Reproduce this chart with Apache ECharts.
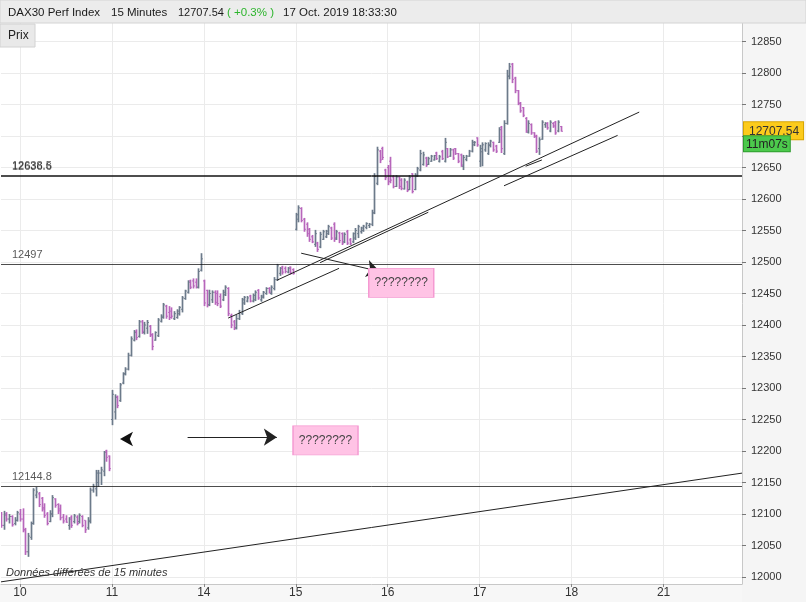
<!DOCTYPE html>
<html>
<head>
<meta charset="utf-8">
<script src="https://cdn.jsdelivr.net/npm/echarts@6/dist/echarts.min.js"></script>
<style>
html,body{margin:0;padding:0;background:#fff;}
#chart{width:806px;height:602px;}
</style>
</head>
<body>
<div id="chart"></div>
<script>
// ---------- DATA ----------
// 15-minute OHLC bars, each [open, high, low, close]
const oct09 = [[12100,12103,12078,12082],[12082,12105,12075,12100],[12098,12103,12088,12092],[12092,12100,12085,12096],[12096,12098,12080,12083],[12085,12095,12082,12090],[12090,12105,12088,12102]];
const oct10 = [[12100,12108,12088,12092],[12092,12109,12071,12075],[12075,12078,12035,12040],[12040,12070,12032,12065],[12063,12088,12059,12085],[12085,12141,12083,12138],[12130,12143,12125,12135],[12132,12135,12111,12115],[12125,12127,12104,12108],[12110,12117,12094,12098],[12100,12103,12082,12085],[12088,12106,12087,12100],[12100,12130,12095,12126],[12124,12125,12110,12114],[12115,12117,12100,12105],[12108,12115,12090,12094],[12095,12100,12085,12089],[12092,12098,12086,12087],[12082,12095,12075,12092],[12095,12098,12078,12082],[12088,12100,12085,12097],[12095,12098,12082,12085],[12088,12101,12085,12098],[12096,12098,12079,12082],[12090,12090,12070,12075],[12078,12095,12075,12090],[12088,12142,12085,12138],[12138,12148,12134,12144],[12140,12170,12128,12165],[12150,12170,12143,12165],[12165,12175,12146,12170],[12168,12200,12160,12198],[12200,12202,12183,12190],[12192,12193,12168,12172]];
const oct11 = [[12250,12297,12241,12290],[12262,12290,12250,12285],[12286,12288,12268,12272],[12280,12308,12278,12305],[12308,12325,12306,12322],[12323,12333,12320,12330],[12330,12356,12328,12352],[12352,12382,12350,12378],[12376,12392,12374,12388],[12390,12393,12376,12380],[12382,12408,12380,12405],[12405,12408,12386,12390],[12388,12405,12385,12400],[12395,12408,12386,12404],[12398,12400,12381,12384],[12385,12387,12360,12366],[12376,12390,12375,12388],[12383,12411,12381,12408],[12406,12417,12404,12414],[12412,12435,12410,12432],[12430,12432,12410,12414],[12420,12430,12408,12412],[12422,12428,12410,12414],[12410,12422,12408,12418],[12412,12425,12410,12422],[12418,12430,12415,12428],[12425,12446,12420,12443],[12442,12456,12440,12454],[12452,12471,12450,12468],[12470,12472,12457,12460],[12470,12474,12458,12462],[12468,12474,12458,12460],[12460,12490,12458,12485],[12487,12514,12485,12505]];
const oct14 = [[12470,12472,12430,12435],[12455,12456,12428,12432],[12432,12456,12430,12450],[12440,12455,12435,12452],[12452,12455,12432,12436],[12450,12455,12430,12434],[12445,12450,12427,12430],[12440,12456,12438,12452],[12448,12463,12446,12460],[12458,12460,12414,12418],[12415,12418,12395,12400],[12405,12408,12392,12396],[12395,12416,12393,12410],[12410,12424,12408,12420],[12418,12443,12416,12440],[12435,12446,12432,12444],[12438,12446,12436,12443],[12446,12448,12436,12438],[12438,12450,12436,12447],[12440,12455,12438,12452],[12455,12457,12440,12443],[12440,12448,12437,12446],[12444,12454,12442,12452],[12450,12460,12448,12458],[12458,12460,12450,12452],[12450,12463,12448,12460],[12458,12476,12455,12472],[12472,12497,12470,12494],[12482,12492,12478,12490],[12492,12494,12480,12484],[12490,12493,12482,12485],[12484,12492,12482,12490],[12492,12493,12480,12483],[12488,12490,12480,12482]];
const oct15 = [[12552,12578,12550,12575],[12568,12590,12563,12586],[12585,12587,12563,12566],[12568,12570,12548,12552],[12560,12563,12540,12545],[12552,12554,12532,12536],[12540,12543,12530,12532],[12528,12551,12524,12545],[12530,12532,12516,12520],[12524,12548,12522,12544],[12536,12551,12535,12548],[12540,12551,12538,12549],[12545,12559,12543,12556],[12554,12556,12535,12538],[12560,12563,12532,12536],[12538,12551,12535,12548],[12546,12548,12530,12534],[12545,12547,12527,12530],[12532,12547,12530,12544],[12548,12551,12527,12530],[12535,12538,12527,12529],[12532,12547,12530,12545],[12538,12554,12535,12550],[12545,12559,12538,12556],[12548,12556,12545,12554],[12550,12559,12548,12557],[12555,12563,12552,12561],[12558,12562,12554,12560],[12560,12583,12557,12578],[12578,12641,12576,12636],[12625,12683,12622,12678],[12676,12678,12657,12662],[12680,12683,12662,12666],[12646,12648,12630,12634]];
const oct16 = [[12650,12654,12622,12628],[12660,12667,12625,12630],[12635,12638,12617,12620],[12620,12638,12619,12635],[12635,12636,12616,12620],[12630,12633,12614,12617],[12616,12633,12615,12630],[12627,12629,12611,12614],[12615,12638,12614,12634],[12640,12641,12609,12612],[12615,12641,12614,12638],[12636,12651,12635,12648],[12646,12678,12644,12672],[12655,12675,12653,12670],[12665,12667,12651,12654],[12655,12667,12654,12664],[12660,12670,12659,12668],[12662,12670,12661,12669],[12673,12675,12662,12664],[12660,12670,12658,12667],[12675,12678,12662,12664],[12660,12697,12658,12690],[12680,12681,12665,12667],[12668,12681,12667,12678],[12678,12680,12662,12665],[12680,12681,12670,12672],[12672,12673,12657,12660],[12670,12672,12651,12654],[12652,12670,12646,12666],[12663,12670,12660,12668],[12668,12678,12667,12676],[12676,12694,12674,12690],[12686,12692,12684,12690],[12697,12698,12683,12686]];
const oct17 = [[12660,12686,12651,12680],[12675,12690,12652,12686],[12678,12690,12675,12688],[12672,12690,12670,12686],[12685,12694,12682,12692],[12690,12691,12675,12678],[12684,12686,12673,12676],[12690,12714,12689,12710],[12714,12716,12673,12680],[12672,12725,12670,12720],[12720,12805,12718,12795],[12795,12816,12790,12810],[12814,12816,12784,12790],[12792,12794,12768,12772],[12772,12773,12749,12752],[12752,12754,12737,12740],[12745,12746,12730,12733],[12728,12730,12705,12708],[12706,12725,12704,12720],[12718,12720,12702,12705],[12705,12706,12697,12699],[12700,12702,12673,12676],[12680,12698,12670,12694],[12695,12725,12694,12722],[12718,12722,12713,12720],[12720,12722,12710,12713],[12708,12725,12706,12722],[12720,12722,12713,12716],[12722,12724,12702,12705],[12708,12725,12706,12722],[12715,12716,12707,12707.54]];

// axis ticks and reference levels
const yTicks = [12000,12050,12100,12150,12200,12250,12300,12350,12400,12450,12500,12550,12600,12650,12700,12750,12800,12850];
const levels = [12638.5, 12636.6, 12497, 12144.8];
const lastPrice = 12707.54;
const countdown = '11m07s';
// drawn trend lines: [[category, price], [category, price]]
const trendLines = [
  [['14 11:15', 12411], ['15 13:00', 12490]],
  [['14 15:45', 12471], ['18 15:15', 12738]],
  [['15 11:15', 12499], ['16 12:45', 12579]],
  [['17 11:15', 12621], ['18 13:15', 12701]],
  [['17 13:15', 12652], ['17 14:45', 12662]],
  [['9 15:45', 11992.3], ['21 16:15', 12164.9]]
];
const arrows = [
  [['15 09:30', 12514], ['15 16:45', 12485]],
  [['11 16:00', 12222], ['14 15:45', 12222]]
];
const arrowHeads = [['11 09:45', 12219]];
const notes = [['16 10:15', 12467, '????????'], ['15 11:45', 12217, '????????']];

// ---------- CATEGORIES (15-minute slots, 09:00-17:15) ----------
const times = [];
for (let k = 0; k < 34; k++) {
  const m = 540 + 15 * k;
  times.push(String(Math.floor(m / 60)).padStart(2, '0') + ':' + String(m % 60).padStart(2, '0'));
}
const categories = [];
times.slice(27).forEach(t => categories.push('9 ' + t));
['10','11','14','15','16','17','18'].forEach(d => times.forEach(t => categories.push(d + ' ' + t)));
times.slice(0, 30).forEach(t => categories.push('21 ' + t));

const days = [['9', oct09, 27], ['10', oct10, 0], ['11', oct11, 0], ['14', oct14, 0], ['15', oct15, 0], ['16', oct16, 0], ['17', oct17, 0]];
const ohlc = [];
days.forEach(([d, arr, start]) => {
  arr.forEach((b, k) => {
    ohlc.push([categories.indexOf(d + ' ' + times[start + k]), b[0], b[1], b[2], b[3]]);
  });
});

const UP = '#6c7a8a', DOWN = '#b766bb';
const FONT = '"Liberation Sans", Arial, sans-serif';
const isDayStart = (idx, val) => /09:00$/.test(val);

const chart = echarts.init(document.getElementById('chart'), null, {renderer: 'canvas'});

const markLineData = [];
levels.forEach(v => markLineData.push({
  yAxis: v,
  lineStyle: {color: '#111', width: 1, type: 'solid', opacity: 0.75},
  label: {show: true, position: 'insideStartTop', distance: [11, 3], formatter: String(v), color: '#222', fontSize: 11, fontFamily: FONT}
}));
trendLines.forEach(([a, b]) => markLineData.push([
  {coord: a, symbol: 'none', lineStyle: {color: '#222', width: 1, type: 'solid'}, label: {show: false}},
  {coord: b, symbol: 'none'}
]));
arrows.forEach(([a, b]) => markLineData.push([
  {coord: a, symbol: 'none', lineStyle: {color: '#222', width: 1, type: 'solid'}, label: {show: false}},
  {coord: b, symbol: 'arrow', symbolSize: 13}
]));
markLineData.push({
  yAxis: lastPrice,
  lineStyle: {color: 'rgba(0,0,0,0)', width: 1, type: 'solid'},
  label: {
    show: true, position: 'end', distance: 2, offset: [0, 6],
    formatter: '{a|' + lastPrice.toFixed(2) + '}\n{b|' + countdown + '}',
    rich: {
      a: {backgroundColor: '#fccb1c', borderColor: '#d7a500', borderWidth: 1, padding: [3, 4, 2, 5], color: '#333', fontSize: 12, fontFamily: FONT, lineHeight: 13},
      b: {backgroundColor: '#4cc94c', borderColor: '#2f9d2f', borderWidth: 1, padding: [2, 2, 1, 2], color: '#222', fontSize: 12, fontFamily: FONT, lineHeight: 13}
    }
  }
});

const markPointData = [];
notes.forEach(([c, v, t]) => markPointData.push({
  coord: [c, v], symbol: 'rect', symbolSize: [65, 29],
  itemStyle: {color: '#ffc3e5', borderColor: '#f59ad2', borderWidth: 1},
  label: {show: true, formatter: t, color: '#444', fontSize: 12, fontFamily: FONT}
}));
arrowHeads.forEach(([c, v]) => markPointData.push({
  coord: [c, v], symbol: 'arrow', symbolSize: [11, 13], symbolRotate: 90,
  itemStyle: {color: '#111'}, label: {show: false}
}));

const option = {
  animation: false,
  backgroundColor: '#ffffff',
  textStyle: {fontFamily: FONT},
  grid: {left: 1, right: 64, top: 23, bottom: 18, containLabel: false},
  xAxis: {
    type: 'category', data: categories, boundaryGap: false,
    axisLine: {show: true, lineStyle: {color: '#c8c8c8'}},
    axisTick: {show: true, interval: isDayStart, length: 3, lineStyle: {color: '#888'}},
    axisLabel: {interval: isDayStart, formatter: v => v.split(' ')[0], color: '#333', fontSize: 12, margin: 3, fontFamily: FONT},
    splitLine: {show: true, interval: isDayStart, lineStyle: {color: '#ebebeb'}}
  },
  yAxis: {
    type: 'value', position: 'right', min: 11988.9, max: 12879.4, scale: true,
    axisLine: {show: true, lineStyle: {color: '#c8c8c8'}},
    axisTick: {show: true, length: 4, customValues: yTicks, lineStyle: {color: '#777'}},
    axisLabel: {customValues: yTicks, formatter: v => String(v), color: '#333', fontSize: 11, margin: 9, fontFamily: FONT},
    splitLine: {show: true, lineStyle: {color: '#ebebeb'}}
  },
  graphic: [
    {type: 'rect', z: -10, silent: true, shape: {x: 742, y: 23, width: 64, height: 579}, style: {fill: '#f5f5f5'}},
    {type: 'rect', z: -10, silent: true, shape: {x: 0, y: 584, width: 742, height: 18}, style: {fill: '#f7f7f7'}},
    {type: 'rect', z: 10, silent: true, shape: {x: 0, y: 0, width: 806, height: 23}, style: {fill: '#ececec', stroke: '#d4d4d4', lineWidth: 1}},
    {type: 'text', z: 11, left: 8, top: 7, style: {text: 'DAX30 Perf Index', fill: '#1a1a1a', font: '11.5px ' + FONT}},
    {type: 'text', z: 11, left: 111, top: 7, style: {text: '15 Minutes', fill: '#1a1a1a', font: '11.5px ' + FONT}},
    {type: 'text', z: 11, left: 178, top: 7, style: {text: '12707.54', fill: '#1a1a1a', font: '11px ' + FONT}},
    {type: 'text', z: 11, left: 227, top: 7, style: {text: '( +0.3% )', fill: '#2db52d', font: '11.5px ' + FONT}},
    {type: 'text', z: 11, left: 283, top: 7, style: {text: '17 Oct. 2019 18:33:30', fill: '#1a1a1a', font: '11.5px ' + FONT}},
    {type: 'rect', z: 10, silent: true, shape: {x: 0, y: 24, width: 35, height: 23}, style: {fill: '#e9e9e9', stroke: '#d2d2d2', lineWidth: 1}},
    {type: 'text', z: 11, left: 8, top: 30, style: {text: 'Prix', fill: '#222', font: '12px ' + FONT}},
    {type: 'text', z: 11, left: 6, top: 567, style: {text: 'Données différées de 15 minutes', fill: '#333', font: 'italic 11px ' + FONT}}
  ],
  series: [{
    type: 'custom',
    name: 'DAX30',
    data: ohlc,
    encode: {x: 0, y: [1, 2, 3, 4]},
    clip: true,
    renderItem: function (params, api) {
      const i = api.value(0);
      const o = api.value(1), h = api.value(2), l = api.value(3), c = api.value(4);
      const po = api.coord([i, o]), ph = api.coord([i, h]), pl = api.coord([i, l]), pc = api.coord([i, c]);
      const color = c >= o ? UP : DOWN;
      const x = Math.round(po[0]) + 0.5;
      return {
        type: 'group',
        children: [
          {type: 'line', shape: {x1: x, y1: ph[1], x2: x, y2: pl[1]}, style: {stroke: color, lineWidth: 1.7}},
          {type: 'line', shape: {x1: x - 1.4, y1: po[1], x2: x, y2: po[1]}, style: {stroke: color, lineWidth: 1}},
          {type: 'line', shape: {x1: x, y1: pc[1], x2: x + 1.4, y2: pc[1]}, style: {stroke: color, lineWidth: 1}}
        ]
      };
    },
    markLine: {silent: true, symbol: ['none', 'none'], animation: false, precision: 2, lineStyle: {type: 'solid'}, data: markLineData},
    markPoint: {silent: true, animation: false, data: markPointData}
  }]
};
chart.setOption(option);
</script>
</body>
</html>
